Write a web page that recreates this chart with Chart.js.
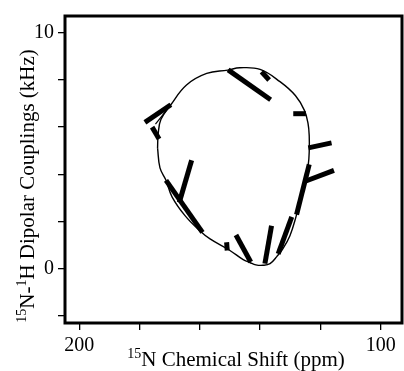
<!DOCTYPE html>
<html>
<head>
<meta charset="utf-8">
<script src="https://cdn.jsdelivr.net/npm/chart.js@4.4.1/dist/chart.umd.min.js"></script>
<style>
  html, body { margin: 0; padding: 0; background: #fff; }
  canvas { display: block; }
</style>
</head>
<body>
<canvas id="c" width="404" height="371"></canvas>
<script>
// PISA-like wheel: thin closed curve + thick dipolar/shift segments
const curveX = [174.0, 173.8, 172.9, 169.6, 164.4, 157.7, 150.7, 146.7, 140.0, 133.4, 128.3, 125.3, 124.1, 123.7,
  123.7, 124.0, 125.1, 126.8, 128.1, 130.1, 132.4, 134.4, 136.7, 139.1, 141.4, 143.4, 145.6, 150.0,
  156.6, 160.0, 164.9, 169.2, 171.2, 173.2, 174.0]
const curveY = [5.11, 5.70, 6.32, 6.95, 7.79, 8.28, 8.42, 8.52, 8.45, 7.93, 7.34, 6.71, 6.16, 5.61,
  4.98, 4.43, 3.67, 2.87, 2.19, 1.39, 0.84, 0.51, 0.20, 0.13, 0.15, 0.25, 0.37, 0.76,
  1.25, 1.60, 2.24, 3.04, 3.74, 4.27, 5.11]

const segStartX = [178.2, 175.8, 150.6, 139.5, 129.0, 124.0, 124.8, 123.7, 162.7, 171.2, 151.1, 148.0, 136.2, 129.5]
const segStartY = [6.20, 6.00, 8.43, 8.35, 6.57, 5.12, 3.71, 4.42, 4.59, 3.74, 1.11, 1.42, 1.81, 2.19]
const segEndX = [169.6, 173.5, 136.5, 137.0, 124.8, 116.3, 115.5, 127.9, 166.8, 159.1, 150.9, 143.1, 138.4, 134.0]
const segEndY = [6.95, 5.50, 7.16, 8.00, 6.57, 5.33, 4.16, 2.28, 2.80, 1.53, 0.76, 0.27, 0.20, 0.62]

// small thin spur at the upper-left corner of the curve
const spurX = [169.6, 174.7]
const spurY = [6.95, 6.13]

const xTicks = [200, 180, 160, 140, 120, 100]
const xLabels = ['200', '', '', '', '', '100']
const yTicks = [-2, 0, 2, 4, 6, 8, 10]
const yLabels = ['', '0', '', '', '', '', '10']

const serif = '"Liberation Serif", "Times New Roman", serif'

const datasets = [
  {
    data: curveX.map((x, i) => ({ x, y: curveY[i] })),
    showLine: true,
    borderColor: '#000',
    borderWidth: 1.4,
    tension: 0.4,
    pointRadius: 0,
  },
  {
    data: spurX.map((x, i) => ({ x, y: spurY[i] })),
    showLine: true,
    borderColor: '#000',
    borderWidth: 1.2,
    pointRadius: 0,
  },
]
for (let i = 0; i < segStartX.length; i++) {
  datasets.push({
    data: [
      { x: segStartX[i], y: segStartY[i] },
      { x: segEndX[i], y: segEndY[i] },
    ],
    showLine: true,
    borderColor: '#000',
    borderWidth: 5,
    borderCapStyle: 'butt',
    pointRadius: 0,
  })
}

function richWidth(ctx, parts, size) {
  let w = 0
  for (const p of parts) {
    ctx.font = (p.sup ? Math.round(size * 0.66) : size) + 'px ' + serif
    w += ctx.measureText(p.t).width
  }
  return w
}

function drawRich(ctx, parts, size) {
  // draws starting at (0,0) baseline, left aligned
  let x = 0
  ctx.textAlign = 'left'
  ctx.textBaseline = 'alphabetic'
  for (const p of parts) {
    ctx.font = (p.sup ? Math.round(size * 0.66) : size) + 'px ' + serif
    ctx.fillText(p.t, x, p.sup ? -size * 0.4 : 0)
    x += ctx.measureText(p.t).width
  }
}

const xTitle = [{ t: '15', sup: true }, { t: 'N Chemical Shift (ppm)' }]
const yTitle = [{ t: '15', sup: true }, { t: 'N-' }, { t: '1', sup: true }, { t: 'H Dipolar Couplings (kHz)' }]

const framePlugin = {
  id: 'frame',
  afterDraw(chart) {
    const { ctx, chartArea: a } = chart
    ctx.save()
    ctx.strokeStyle = '#000'
    ctx.lineWidth = 3
    ctx.strokeRect(a.left, a.top, a.right - a.left - 1, a.bottom - a.top)
    ctx.fillStyle = '#000'

    // x title
    const sx = 21
    const wx = richWidth(ctx, xTitle, sx)
    ctx.save()
    ctx.translate((a.left + a.right) / 2 - wx / 2 + 2, 366)
    drawRich(ctx, xTitle, sx)
    ctx.restore()

    // y title, rotated
    const sy = 21
    const wy = richWidth(ctx, yTitle, sy)
    ctx.save()
    ctx.translate(34, 186 + wy / 2)
    ctx.rotate(-Math.PI / 2)
    drawRich(ctx, yTitle, sy)
    ctx.restore()
    ctx.restore()
  },
}

new Chart(document.getElementById('c'), {
  type: 'scatter',
  data: { datasets },
  plugins: [framePlugin],
  options: {
    responsive: false,
    animation: false,
    layout: { padding: { top: 14, right: 1, left: 0, bottom: 0 } },
    plugins: { legend: false, tooltip: false },
    scales: {
      x: {
        type: 'linear',
        reverse: true,
        min: 92.6,
        max: 204.7,
        afterBuildTicks: (s) => { s.ticks = xTicks.map((v) => ({ value: v })) },
        afterFit: (s) => { s.height = 48 },
        border: { display: false },
        grid: { drawOnChartArea: false, tickLength: 7, color: '#000', lineWidth: 1.3 },
        ticks: {
          color: '#000',
          padding: 4,
          maxRotation: 0,
          autoSkip: false,
          font: { family: serif, size: 20 },
          callback: (v, i) => xLabels[i],
        },
      },
      y: {
        type: 'linear',
        min: -2.32,
        max: 10.72,
        afterBuildTicks: (s) => { s.ticks = yTicks.map((v) => ({ value: v })) },
        afterFit: (s) => { s.width = 65 },
        border: { display: false },
        grid: { drawOnChartArea: false, tickLength: 7, color: '#000', lineWidth: 1.3 },
        ticks: {
          color: '#000',
          padding: 4,
          autoSkip: false,
          font: { family: serif, size: 20 },
          callback: (v, i) => yLabels[i],
        },
      },
    },
  },
})
</script>
</body>
</html>
